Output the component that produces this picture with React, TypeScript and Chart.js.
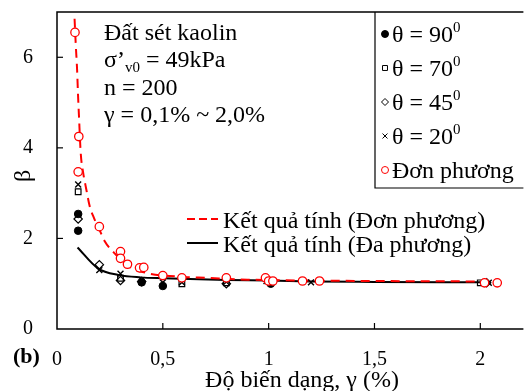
import React, { useEffect, useRef } from "react";
import { Chart, registerables } from "chart.js";
import { drawPoint } from "chart.js/helpers";

Chart.register(...registerables);

const FONT = "'Liberation Serif', 'Times New Roman', serif";

// Axis ticks
const xTickValues = [0, 0.5, 1, 1.5, 2];
const yTickValues = [0, 2, 4, 6];

// Calculated curve (uniaxial / Đơn phương) - red dashed
const calcUniX = [0.083, 0.089, 0.095, 0.099, 0.104, 0.112, 0.123, 0.139, 0.154, 0.175, 0.2, 0.224, 0.27, 0.34, 0.42, 0.6, 0.7, 0.9, 1.2, 1.5, 2.0];
const calcUniY = [6.85, 6.25, 5.72, 5.21, 4.68, 3.89, 3.47, 3.07, 2.72, 2.45, 2.2, 1.95, 1.68, 1.38, 1.24, 1.15, 1.13, 1.09, 1.07, 1.06, 1.05];

// Calculated curve (multidirectional / Đa phương) - black solid
const calcMultiX = [0.097, 0.193, 0.294, 0.395, 0.5, 0.8, 1.0, 1.2, 1.5, 2.0];
const calcMultiY = [1.8, 1.34, 1.19, 1.14, 1.12, 1.08, 1.07, 1.05, 1.04, 1.03];

// Measured points
const t90X = [0.1, 0.1, 0.4, 0.5, 1.01];
const t90Y = [2.54, 2.17, 1.03, 0.95, 1.0];
const t70X = [0.1, 0.3, 0.59, 0.8, 2.0];
const t70Y = [3.03, 1.12, 1.0, 1.02, 1.02];
const t45X = [0.1, 0.2, 0.3, 0.4, 0.8, 2.03];
const t45Y = [2.43, 1.42, 1.07, 1.05, 1.0, 1.02];
const t20X = [0.1, 0.2, 0.3, 0.4, 0.5, 0.59, 0.8, 0.99, 1.2, 2.04];
const t20Y = [3.19, 1.3, 1.22, 1.08, 1.03, 1.03, 1.04, 1.06, 1.03, 1.02];
const uniX = [0.085, 0.103, 0.1, 0.2, 0.3, 0.3, 0.333, 0.39, 0.41, 0.5, 0.59, 0.8, 0.985, 1.0, 1.02, 1.16, 1.24, 2.02, 2.08];
const uniY = [6.55, 4.25, 3.47, 2.26, 1.71, 1.56, 1.43, 1.35, 1.36, 1.18, 1.13, 1.13, 1.13, 1.06, 1.06, 1.06, 1.06, 1.02, 1.02];

const pts = (xs: number[], ys: number[]) => xs.map((x, i) => ({ x, y: ys[i] }));

type Part = { t: string; size: number; dy?: number; bold?: boolean };

function drawRich(ctx: CanvasRenderingContext2D, parts: Part[], x: number, y: number) {
  let cx = x;
  ctx.textBaseline = "alphabetic";
  ctx.textAlign = "left";
  for (const p of parts) {
    ctx.font = `${p.bold ? "bold " : ""}${p.size}px ${FONT}`;
    ctx.fillText(p.t, cx, y + (p.dy || 0));
    cx += ctx.measureText(p.t).width;
  }
}

const decor = {
  id: "decor",
  afterDraw(chart: any) {
    const ctx: CanvasRenderingContext2D = chart.ctx;
    const { left, right, top, bottom } = chart.chartArea;
    const xs = chart.scales.x;
    const ys = chart.scales.y;
    ctx.save();
    ctx.strokeStyle = "#000";
    ctx.fillStyle = "#000";
    ctx.lineWidth = 1.5;
    // frame
    ctx.beginPath();
    ctx.moveTo(right + 5, top);
    ctx.lineTo(left, top);
    ctx.lineTo(left, bottom);
    ctx.lineTo(right + 5, bottom);
    ctx.stroke();
    // inside ticks
    ctx.lineWidth = 1.2;
    for (const v of xTickValues) {
      if (v === 0) continue;
      const px = xs.getPixelForValue(v);
      ctx.beginPath();
      ctx.moveTo(px, bottom);
      ctx.lineTo(px, bottom - 6);
      ctx.stroke();
    }
    for (const v of yTickValues) {
      if (v === 0) continue;
      const py = ys.getPixelForValue(v);
      ctx.beginPath();
      ctx.moveTo(left, py);
      ctx.lineTo(left + 6, py);
      ctx.stroke();
    }

    // legend box (markers)
    ctx.lineWidth = 1.2;
    ctx.beginPath();
    ctx.moveTo(375, top);
    ctx.lineTo(375, 188);
    ctx.lineTo(right + 5, 188);
    ctx.stroke();
    const ent = [
      { a: "θ = 90", s: "0", style: "circle", fill: "#000", stroke: "#000", r: 3.5 },
      { a: "θ = 70", s: "0", style: "rect", fill: "#fff", stroke: "#000", r: 3.5 },
      { a: "θ = 45", s: "0", style: "rectRot", fill: "#fff", stroke: "#000", r: 3.5 },
      { a: "θ = 20", s: "0", style: "crossRot", fill: "#fff", stroke: "#000", r: 3.5 },
      { a: "Đơn phương", s: "", style: "circle", fill: "#fff", stroke: "#ff0000", r: 3.5 },
    ];
    ent.forEach((e, i) => {
      const cy = 34 + i * 34;
      ctx.save();
      ctx.fillStyle = e.fill;
      ctx.strokeStyle = e.stroke;
      ctx.lineWidth = 1;
      drawPoint(ctx, { pointStyle: e.style as any, radius: e.r, borderWidth: 1, rotation: 0 }, 385, cy);
      ctx.restore();
      ctx.fillStyle = "#000";
      const parts: Part[] = [{ t: e.a, size: 24 }];
      if (e.s) parts.push({ t: e.s, size: 15, dy: -10 });
      drawRich(ctx, parts, 392, cy + 8);
    });

    // line legend
    ctx.save();
    ctx.lineWidth = 2;
    ctx.strokeStyle = "#ff0000";
    ctx.setLineDash([8, 4]);
    ctx.beginPath();
    ctx.moveTo(187, 219);
    ctx.lineTo(218, 219);
    ctx.stroke();
    ctx.setLineDash([]);
    ctx.strokeStyle = "#000";
    ctx.beginPath();
    ctx.moveTo(187, 243);
    ctx.lineTo(218, 243);
    ctx.stroke();
    ctx.restore();
    ctx.fillStyle = "#000";
    drawRich(ctx, [{ t: "Kết quả tính (Đơn phương)", size: 24 }], 223, 228);
    drawRich(ctx, [{ t: "Kết quả tính (Đa phương)", size: 24 }], 223, 252);

    // annotation
    drawRich(ctx, [{ t: "Đất sét kaolin", size: 24 }], 104, 40);
    drawRich(ctx, [{ t: "σ’", size: 24 }, { t: "v0", size: 15, dy: 5 }, { t: " = 49kPa", size: 24 }], 104, 67);
    drawRich(ctx, [{ t: "n = 200", size: 24 }], 104, 95);
    drawRich(ctx, [{ t: "γ = 0,1% ~ 2,0%", size: 24 }], 104, 122);

    // axis titles
    ctx.font = `24px ${FONT}`;
    ctx.textAlign = "center";
    ctx.textBaseline = "alphabetic";
    ctx.fillText("Độ biến dạng, γ (%)", 302, 387);
    ctx.save();
    ctx.translate(30, 176);
    ctx.rotate(-Math.PI / 2);
    ctx.font = `24px ${FONT}`;
    ctx.textAlign = "center";
    ctx.textBaseline = "alphabetic";
    ctx.fillText("β", 0, 0);
    ctx.restore();
    ctx.font = `bold 22px ${FONT}`;
    ctx.textAlign = "left";
    ctx.fillText("(b)", 13, 363);
    ctx.restore();
  },
};

export default function App() {
  const ref = useRef<HTMLCanvasElement>(null);
  useEffect(() => {
    if (!ref.current) return;
    const chart = new Chart(ref.current, {
      type: "scatter",
      data: {
        datasets: [
          { label: "θ = 90", data: pts(t90X, t90Y), pointStyle: "circle", pointRadius: 3.8, backgroundColor: "#000", borderColor: "#000", borderWidth: 1, order: 1 },
          { label: "θ = 70", data: pts(t70X, t70Y), pointStyle: "rect", pointRadius: 4, backgroundColor: "rgba(255,255,255,0)", borderColor: "#000", borderWidth: 1.2, order: 1 },
          { label: "θ = 45", data: pts(t45X, t45Y), pointStyle: "rectRot", pointRadius: 4.2, backgroundColor: "rgba(255,255,255,0)", borderColor: "#000", borderWidth: 1.2, order: 1 },
          { label: "θ = 20", data: pts(t20X, t20Y), pointStyle: "crossRot", pointRadius: 4.2, backgroundColor: "#000", borderColor: "#000", borderWidth: 1.4, order: 1 },
          { label: "Đơn phương", data: pts(uniX, uniY), pointStyle: "circle", pointRadius: 4.2, backgroundColor: "#fff", borderColor: "#ff0000", borderWidth: 1.3, order: 0 },
          { type: "line", label: "Kết quả tính (Đơn phương)", data: pts(calcUniX, calcUniY), borderColor: "#ff0000", borderWidth: 2, borderDash: [9, 6], pointRadius: 0, showLine: true, fill: false, cubicInterpolationMode: "monotone", order: 5 } as any,
          { type: "line", label: "Kết quả tính (Đa phương)", data: pts(calcMultiX, calcMultiY), borderColor: "#000", borderWidth: 2, pointRadius: 0, showLine: true, fill: false, cubicInterpolationMode: "monotone", order: 5 } as any,
        ],
      },
      options: {
        animation: false,
        responsive: false,
        devicePixelRatio: 1,
        layout: { padding: { top: 12, left: 0, right: 0, bottom: 0 } },
        plugins: { legend: { display: false }, tooltip: { enabled: false } },
        scales: {
          x: {
            type: "linear",
            min: 0,
            max: 2.18,
            grid: { display: false, drawTicks: false },
            border: { display: false },
            afterFit: (s: any) => { s.height = 62; s.paddingLeft = 0; s.paddingRight = 0; },
            afterBuildTicks: (s: any) => { s.ticks = xTickValues.map((v) => ({ value: v })); },
            ticks: {
              padding: 19,
              color: "#000",
              font: { family: FONT, size: 20 },
              callback: (v: any) => String(v).replace(".", ","),
            },
          },
          y: {
            type: "linear",
            min: 0,
            max: 7,
            grid: { display: false, drawTicks: false },
            border: { display: false },
            afterFit: (s: any) => { s.width = 57; s.paddingTop = 0; s.paddingBottom = 0; },
            afterBuildTicks: (s: any) => { s.ticks = yTickValues.map((v) => ({ value: v })); },
            ticks: {
              padding: 24,
              color: "#000",
              font: { family: FONT, size: 20 },
            },
          },
        },
      },
      plugins: [decor],
    });
    return () => chart.destroy();
  }, []);
  return (
    <div style={{ position: "fixed", left: 0, top: 0, width: 524, height: 391, background: "#fff" }}>
      <canvas ref={ref} width={524} height={391} style={{ width: 524, height: 391, display: "block" }} />
    </div>
  );
}
